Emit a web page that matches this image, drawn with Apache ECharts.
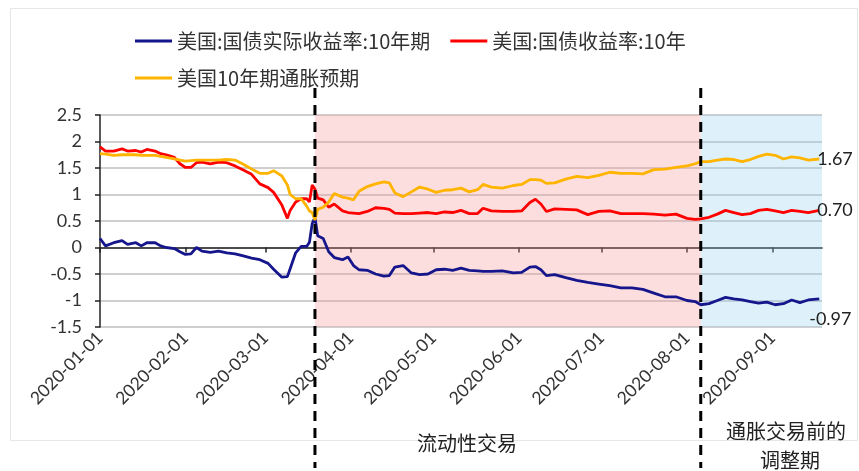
<!DOCTYPE html>
<html>
<head>
<meta charset="utf-8">
<script src="https://cdn.jsdelivr.net/npm/echarts@6/dist/echarts.min.js"></script>
<style>
  html, body { margin: 0; padding: 0; background: #fff; }
  #chart { width: 859px; height: 471px; }
</style>
</head>
<body>
<div id="chart"></div>
<script>
// 日期（日历日，Excel 日期轴）
var dates = [
  '2020-01-01', '2020-01-03', '2020-01-06', '2020-01-09', '2020-01-11', '2020-01-14', '2020-01-16', '2020-01-18', '2020-01-21', '2020-01-23',
  '2020-01-25', '2020-01-28', '2020-01-30', '2020-02-01', '2020-02-03', '2020-02-05', '2020-02-07', '2020-02-10', '2020-02-13', '2020-02-16',
  '2020-02-19', '2020-02-22', '2020-02-25', '2020-02-28', '2020-03-02', '2020-03-04', '2020-03-07', '2020-03-09', '2020-03-10', '2020-03-12',
  '2020-03-14', '2020-03-16', '2020-03-17', '2020-03-18', '2020-03-19', '2020-03-20', '2020-03-22', '2020-03-24', '2020-03-26', '2020-03-29',
  '2020-03-31', '2020-04-02', '2020-04-04', '2020-04-07', '2020-04-10', '2020-04-13', '2020-04-15', '2020-04-17', '2020-04-20', '2020-04-23',
  '2020-04-26', '2020-04-29', '2020-05-02', '2020-05-05', '2020-05-08', '2020-05-11', '2020-05-14', '2020-05-17', '2020-05-19', '2020-05-22',
  '2020-05-26', '2020-05-30', '2020-06-02', '2020-06-05', '2020-06-07', '2020-06-09', '2020-06-11', '2020-06-14', '2020-06-18', '2020-06-22',
  '2020-06-26', '2020-06-30', '2020-07-04', '2020-07-08', '2020-07-12', '2020-07-16', '2020-07-20', '2020-07-24', '2020-07-28', '2020-08-01',
  '2020-08-04', '2020-08-06', '2020-08-09', '2020-08-12', '2020-08-15', '2020-08-18', '2020-08-21', '2020-08-24', '2020-08-27', '2020-08-30',
  '2020-09-02', '2020-09-05', '2020-09-08', '2020-09-11', '2020-09-14', '2020-09-18'
];

// 美国:国债实际收益率:10年期
var realYield = [
  0.17, 0.03, 0.09, 0.13, 0.06, 0.09, 0.03, 0.09, 0.09, 0.03,
  0.00, -0.02, -0.08, -0.13, -0.12, 0.00, -0.07, -0.09, -0.07, -0.10,
  -0.12, -0.16, -0.20, -0.23, -0.30, -0.41, -0.56, -0.55, -0.40, -0.10,
  0.02, 0.02, 0.10, 0.45, 0.57, 0.22, 0.17, -0.08, -0.19, -0.23,
  -0.18, -0.34, -0.42, -0.43, -0.50, -0.54, -0.53, -0.37, -0.34, -0.48,
  -0.51, -0.50, -0.42, -0.41, -0.43, -0.39, -0.43, -0.44, -0.45, -0.45,
  -0.44, -0.48, -0.47, -0.37, -0.36, -0.42, -0.53, -0.51, -0.57, -0.62,
  -0.66, -0.69, -0.72, -0.76, -0.76, -0.79, -0.86, -0.93, -0.93, -1.00,
  -1.02, -1.08, -1.06, -1.00, -0.94, -0.97, -0.99, -1.02, -1.05, -1.03,
  -1.08, -1.06, -0.99, -1.04, -0.99, -0.97
];

// 美国:国债收益率:10年
var nominalYield = [
  1.90, 1.82, 1.82, 1.86, 1.82, 1.83, 1.80, 1.85, 1.82, 1.77,
  1.75, 1.70, 1.58, 1.51, 1.51, 1.60, 1.61, 1.58, 1.61, 1.60,
  1.54, 1.46, 1.38, 1.20, 1.13, 1.04, 0.80, 0.55, 0.70, 0.86,
  0.92, 0.92, 0.86, 1.18, 1.10, 0.93, 0.90, 0.76, 0.82, 0.69,
  0.66, 0.65, 0.64, 0.68, 0.75, 0.74, 0.72, 0.65, 0.64, 0.64,
  0.65, 0.66, 0.64, 0.67, 0.66, 0.70, 0.64, 0.64, 0.74, 0.69,
  0.68, 0.68, 0.69, 0.85, 0.91, 0.82, 0.68, 0.73, 0.72, 0.71,
  0.62, 0.68, 0.69, 0.64, 0.64, 0.64, 0.63, 0.61, 0.63, 0.55,
  0.53, 0.54, 0.57, 0.63, 0.70, 0.66, 0.62, 0.64, 0.70, 0.72,
  0.69, 0.66, 0.70, 0.68, 0.66, 0.70
];

// 美国10年期通胀预期
var inflationExp = [
  1.77, 1.76, 1.74, 1.75, 1.75, 1.75, 1.74, 1.74, 1.74, 1.72,
  1.70, 1.67, 1.65, 1.63, 1.64, 1.65, 1.65, 1.65, 1.65, 1.66,
  1.65, 1.57, 1.48, 1.40, 1.40, 1.45, 1.35, 1.18, 1.00, 0.92,
  0.92, 0.78, 0.69, 0.66, 0.52, 0.72, 0.76, 0.86, 1.02, 0.95,
  0.93, 0.90, 1.06, 1.15, 1.20, 1.24, 1.22, 1.03, 0.96, 1.05,
  1.14, 1.10, 1.04, 1.08, 1.09, 1.12, 1.05, 1.09, 1.19, 1.14,
  1.12, 1.17, 1.19, 1.28, 1.28, 1.27, 1.21, 1.22, 1.29, 1.34,
  1.32, 1.36, 1.42, 1.40, 1.40, 1.39, 1.47, 1.48, 1.51, 1.54,
  1.58, 1.62, 1.62, 1.65, 1.67, 1.66, 1.62, 1.66, 1.72, 1.76,
  1.74, 1.67, 1.71, 1.69, 1.65, 1.67
];

var seriesNames = ['美国:国债实际收益率:10年期', '美国:国债收益率:10年', '美国10年期通胀预期'];
var tickDates = ['2020-01-01', '2020-02-01', '2020-03-01', '2020-04-01', '2020-05-01',
  '2020-06-01', '2020-07-01', '2020-08-01', '2020-09-01'];
var axisStart = '2020-01-01';
var axisEnd = '2020-09-19';
var phaseDates = ['2020-03-19', '2020-08-06'];

function toTime(s) {
  var p = s.split('-');
  return new Date(+p[0], +p[1] - 1, +p[2]).getTime();
}
function pairs(vals) {
  return dates.map(function (d, i) { return [toTime(d), vals[i]]; });
}
function pad(n) { return n < 10 ? '0' + n : '' + n; }
function fmtDate(v) {
  var d = new Date(v);
  return d.getFullYear() + '-' + pad(d.getMonth() + 1) + '-' + pad(d.getDate());
}
var tickTimes = tickDates.map(toTime);
var numFont = 'Lato, "Noto Sans CJK SC", sans-serif';
var cjkFont = '"Noto Sans CJK SC", sans-serif';

var chart = echarts.init(document.getElementById('chart'));

function lineSeries(name, vals, color, labelOffset) {
  return {
    name: name,
    type: 'line',
    data: pairs(vals),
    showSymbol: false,
    symbol: 'none',
    z: 3,
    lineStyle: { color: color, width: 2.8 },
    itemStyle: { color: color },
    endLabel: {
      show: true,
      distance: -2,
      offset: labelOffset,
      formatter: function (p) { return p.value[1].toFixed(2); },
      fontFamily: numFont,
      fontSize: 18,
      color: '#222'
    }
  };
}

chart.setOption({
  animation: false,
  color: ['#15158c', '#ff0000', '#ffb400'],
  legend: [
    {
      data: [seriesNames[0], seriesNames[1]],
      left: 130,
      top: 26,
      icon: 'rect',
      itemWidth: 37,
      itemHeight: 3,
      itemGap: 20,
      textStyle: { fontFamily: cjkFont, fontSize: 20, color: '#333' }
    },
    {
      data: [seriesNames[2]],
      left: 130,
      top: 63,
      icon: 'rect',
      itemWidth: 37,
      itemHeight: 3,
      textStyle: { fontFamily: cjkFont, fontSize: 20, color: '#333' }
    }
  ],
  grid: {
    left: 100,
    right: 37,
    top: 115,
    bottom: 144,
    outerBoundsMode: 'none'
  },
  xAxis: [
    {
      type: 'value',
      min: toTime(axisStart),
      max: toTime(axisEnd),
      axisLine: { show: false, onZero: false },
      axisTick: { show: false },
      splitLine: { show: false },
      axisLabel: {
        customValues: tickTimes,
        rotate: 45,
        margin: 8,
        fontFamily: numFont,
        fontSize: 17.5,
        color: '#333',
        formatter: fmtDate
      }
    },
    {
      type: 'value',
      min: toTime(axisStart),
      max: toTime(axisEnd),
      position: 'bottom',
      axisLine: { show: true, onZero: true, lineStyle: { color: '#222', width: 1.5 } },
      axisTick: { show: true, customValues: tickTimes, length: 5, lineStyle: { color: '#222', width: 1.5 } },
      axisLabel: { show: false },
      splitLine: { show: false }
    }
  ],
  yAxis: {
    type: 'value',
    min: -1.5,
    max: 2.5,
    interval: 0.5,
    axisLine: { show: true, lineStyle: { color: '#222', width: 1.5 } },
    axisTick: { show: true, length: 5, lineStyle: { color: '#222', width: 1.5 } },
    axisLabel: { margin: 18, fontFamily: numFont, fontSize: 18, color: '#333' },
    splitLine: { lineStyle: { color: '#cfcfcf', width: 2 } }
  },
  series: [
    {
      type: 'line',
      data: [],
      z: 1,
      silent: true,
      markArea: {
        silent: true,
        data: [
          [{ xAxis: toTime(phaseDates[0]), itemStyle: { color: 'rgba(248,150,150,0.31)' } }, { xAxis: toTime(phaseDates[1]) }],
          [{ xAxis: toTime(phaseDates[1]), itemStyle: { color: 'rgba(150,210,240,0.31)' } }, { xAxis: toTime(axisEnd) }]
        ]
      }
    },
    lineSeries(seriesNames[0], realYield, '#15158c', [-8, 20]),
    lineSeries(seriesNames[1], nominalYield, '#ff0000', [0, 0]),
    lineSeries(seriesNames[2], inflationExp, '#ffb400', [0, 0])
  ]
});

// 阶段分隔虚线与注释
var graphics = [{
  type: 'rect',
  silent: true,
  z: -10,
  shape: { x: 10.5, y: 8.5, width: 847, height: 432 },
  style: { fill: 'none', stroke: '#e6e6e6', lineWidth: 1 }
}];
phaseDates.forEach(function (d) {
  var x = chart.convertToPixel({ xAxisIndex: 0 }, toTime(d));
  graphics.push({
    type: 'line',
    silent: true,
    z: 100,
    shape: { x1: x, y1: 88, x2: x, y2: 468 },
    style: { stroke: '#000', lineWidth: 3, lineDash: [10, 7] }
  });
});
graphics.push(
  { type: 'text', silent: true, z: 100, x: 467, y: 443,
    style: { text: '流动性交易', font: '20px "Noto Sans CJK SC"', fill: '#222', align: 'center', verticalAlign: 'middle' } },
  { type: 'text', silent: true, z: 100, x: 786, y: 431,
    style: { text: '通胀交易前的', font: '20px "Noto Sans CJK SC"', fill: '#222', align: 'center', verticalAlign: 'middle' } },
  { type: 'text', silent: true, z: 100, x: 790, y: 460,
    style: { text: '调整期', font: '20px "Noto Sans CJK SC"', fill: '#222', align: 'center', verticalAlign: 'middle' } }
);
chart.setOption({ graphic: graphics });
</script>
</body>
</html>
